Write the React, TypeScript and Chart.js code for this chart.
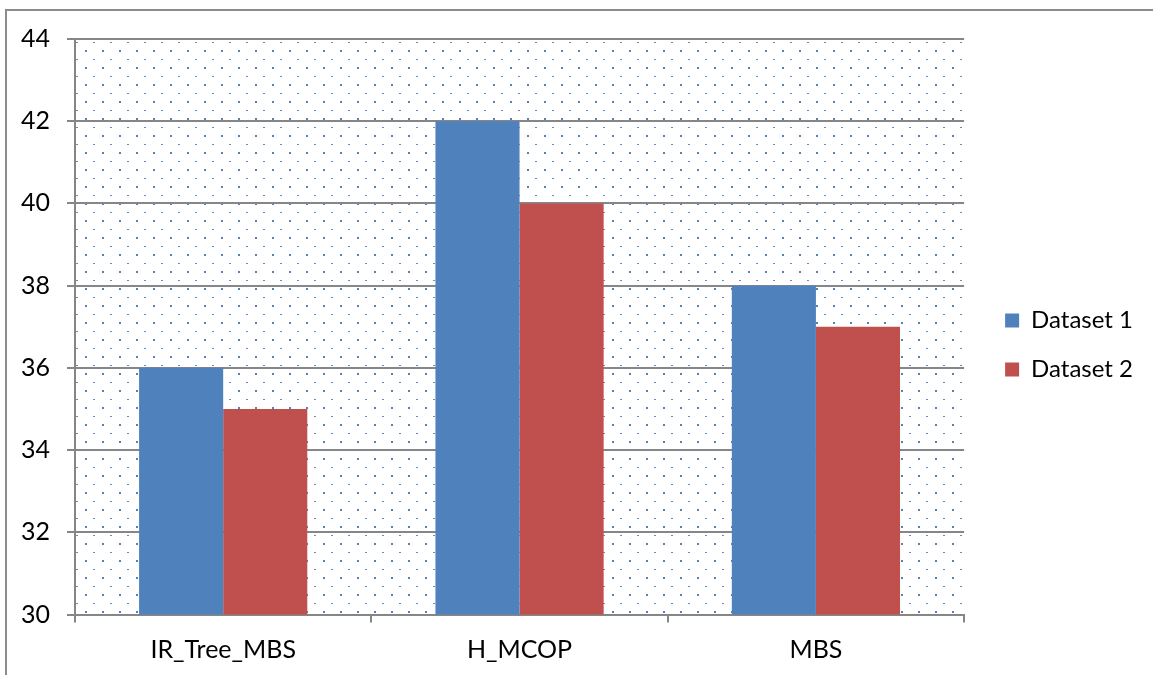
import React, { useEffect, useRef } from "react";
import { Chart, registerables } from "chart.js";

Chart.register(...registerables);

const categories = ["IR_Tree_MBS", "H_MCOP", "MBS"];
const dataset1 = [36, 42, 38];
const dataset2 = [35, 40, 37];
const seriesNames = ["Dataset 1", "Dataset 2"];
const yMin = 30;
const yMax = 44;
const yStep = 2;

const FONT_FAMILY = "Lato, 'Open Sans', sans-serif";
const GRID_GREY = "#868686";

// Dotted fill behind the plot area
const dottedBackground = {
  id: "dottedBackground",
  beforeDraw(chart: any) {
    const { ctx, chartArea } = chart;
    const { left, top, right, bottom } = chartArea;
    const step = 17;
    ctx.save();
    ctx.beginPath();
    ctx.rect(left, top, right - left, bottom - top);
    ctx.clip();
    ctx.fillStyle = "#ffffff";
    ctx.fillRect(left, top, right - left, bottom - top);
    ctx.fillStyle = "rgba(79,129,189,0.9)";
    for (let y = top + 2.7; y < bottom; y += step) {
      for (let x = left + 1; x < right; x += step) {
        ctx.fillRect(Math.round(x), Math.round(y), 2, 1);
      }
    }
    ctx.fillStyle = "#4F81BD";
    for (let y = top + 11.2; y < bottom; y += step) {
      for (let x = left + 9.5; x < right; x += step) {
        ctx.fillRect(Math.round(x), Math.round(y), 2, 2);
      }
    }
    ctx.restore();
  },
};

// Nudge the legend a little further from the plot area and up a bit
const legendOffset = {
  id: "legendOffset",
  afterLayout(chart: any) {
    const lg = chart.legend;
    if (!lg) return;
    lg.left += 16;
    lg.right += 16;
    lg.top -= 12;
    lg.bottom -= 12;
  },
};

export default function App() {
  const canvasRef = useRef<HTMLCanvasElement | null>(null);

  useEffect(() => {
    if (!canvasRef.current) return;
    const font = { family: FONT_FAMILY, size: 25 };
    const chart = new Chart(canvasRef.current, {
      type: "bar",
      data: {
        labels: categories,
        datasets: [
          {
            label: seriesNames[0],
            data: dataset1,
            backgroundColor: "#4F81BD",
            borderWidth: 0,
          },
          {
            label: seriesNames[1],
            data: dataset2,
            backgroundColor: "#C0504D",
            borderWidth: 0,
          },
        ],
      },
      options: {
        responsive: false,
        animation: false,
        layout: { padding: { top: 39, left: 0, right: 26, bottom: 0 } },
        datasets: {
          bar: { categoryPercentage: 168 / 296, barPercentage: 1 },
        },
        plugins: {
          tooltip: { enabled: false },
          legend: {
            position: "right",
            labels: {
              boxWidth: 14,
              boxHeight: 14,
              padding: 25,
              color: "#000",
              font: { family: FONT_FAMILY, size: 24 },
            },
          },
        },
        scales: {
          x: {
            grid: {
              offset: true,
              drawOnChartArea: false,
              color: GRID_GREY,
              lineWidth: 2,
              tickLength: 8,
            },
            border: { color: GRID_GREY, width: 2 },
            ticks: { color: "#000", font, padding: 12 },
            afterFit(scale: any) {
              scale.height = 60.5;
            },
          },
          y: {
            min: yMin,
            max: yMax,
            ticks: { stepSize: yStep, color: "#000", font, padding: 17 },
            grid: { color: GRID_GREY, lineWidth: 2, tickLength: 8 },
            border: { color: GRID_GREY, width: 2 },
            afterFit(scale: any) {
              scale.width = 75;
            },
          },
        },
      },
      plugins: [dottedBackground, legendOffset],
    } as any);
    return () => chart.destroy();
  }, []);

  return (
    <div
      style={{
        position: "fixed",
        left: 0,
        top: 0,
        width: 1153,
        height: 675,
        background: "#fff",
        overflow: "hidden",
      }}
    >
      <div
        style={{
          position: "absolute",
          left: 5,
          top: 9,
          width: 1300,
          height: 800,
          border: "2px solid #8c8c8c",
        }}
      />
      <canvas
        ref={canvasRef}
        width={1153}
        height={675}
        style={{ position: "absolute", left: 0, top: 0 }}
      />
    </div>
  );
}
